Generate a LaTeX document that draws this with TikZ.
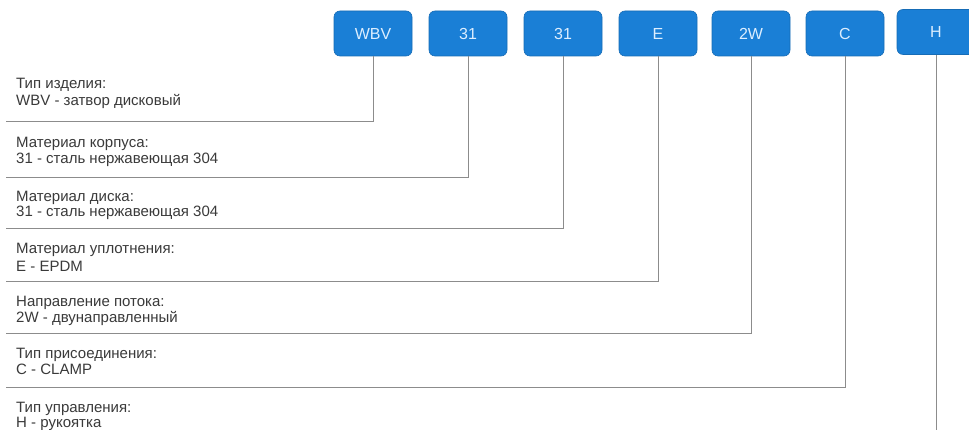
\documentclass[tikz,border=0pt]{standalone}
\usepackage{fontspec}
\setmainfont{Liberation Sans}
\definecolor{boxblue}{HTML}{1A7FD6}
\definecolor{boxtext}{HTML}{DCEEFF}
\definecolor{txt}{HTML}{3A3A3A}
\definecolor{rule}{HTML}{8C8C8C}
\begin{document}
\begin{tikzpicture}[x=1pt,y=-1pt,
  codebox/.style={draw=boxblue!85!black, line width=0.6pt, fill=boxblue, rounded corners=6pt,
    minimum width=78pt, minimum height=45pt, inner sep=0pt, text=boxtext,
    font=\fontsize{16}{16}\selectfont},
  lbl/.style={anchor=base west, inner sep=0pt, text=txt, font=\fontsize{15}{16}\selectfont},
  conn/.style={draw=rule, line width=0.9pt}]
\useasboundingbox (0,0) rectangle (969,430);
\fill[white] (0,0) rectangle (969,430);
% code boxes
\node[codebox] (b1) at (373,33.5) {WBV};
\node[codebox] (b2) at (468,33.5) {31};
\node[codebox] (b3) at (563,33.5) {31};
\node[codebox] (b4) at (658,33.5) {E};
\node[codebox] (b5) at (751,33.5) {2W};
\node[codebox] (b6) at (845,33.5) {C};
\node[codebox] (b7) at (936,32) {H};
% line ends
\coordinate (e1) at (6,121);
\coordinate (e2) at (6,177);
\coordinate (e3) at (6,228);
\coordinate (e4) at (6,281);
\coordinate (e5) at (6,333);
\coordinate (e6) at (6,387);
\coordinate (e7) at (936,432);
% labels
\node[lbl] (t1) at (16,89) {Тип изделия:};
\node[lbl] (v1) at (16,106) {WBV - затвор дисковый};
\node[lbl] (t2) at (16,148) {Материал корпуса:};
\node[lbl] (v2) at (16,164) {31 - сталь нержавеющая 304};
\node[lbl] (t3) at (16,202) {Материал диска:};
\node[lbl] (v3) at (16,217) {31 - сталь нержавеющая 304};
\node[lbl] (t4) at (16,254) {Материал уплотнения:};
\node[lbl] (v4) at (16,272) {E - EPDM};
\node[lbl] (t5) at (16,307) {Направление потока:};
\node[lbl] (v5) at (16,323) {2W - двунаправленный};
\node[lbl] (t6) at (16,358) {Тип присоединения:};
\node[lbl] (v6) at (16,374) {C - CLAMP};
\node[lbl] (t7) at (16,412) {Тип управления:};
\node[lbl] (v7) at (16,427) {H - рукоятка};
% connectors
\draw[conn] (b1.south) |- (e1);
\draw[conn] (b2.south) |- (e2);
\draw[conn] (b3.south) |- (e3);
\draw[conn] (b4.south) |- (e4);
\draw[conn] (b5.south) |- (e5);
\draw[conn] (b6.south) |- (e6);
\draw[conn] (b7.south) -- (e7);
\end{tikzpicture}
\end{document}
